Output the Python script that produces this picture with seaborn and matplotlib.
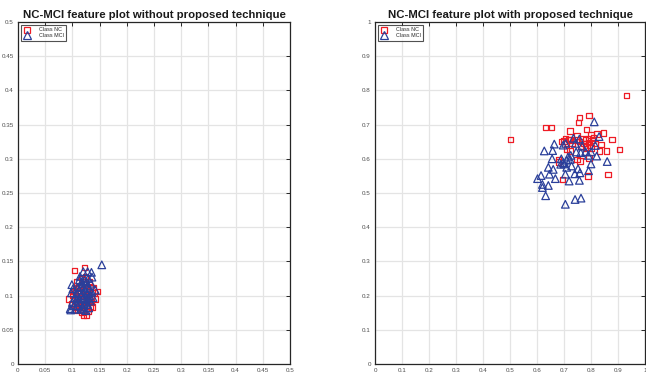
import matplotlib
matplotlib.use("Agg")
import matplotlib.pyplot as plt
from matplotlib.lines import Line2D
import seaborn as sns
import pandas as pd

# ---------------- data ----------------
left_nc_x = [0.1035, 0.122, 0.146, 0.0925, 0.12, 0.126, 0.118, 0.105, 0.11, 0.115, 0.125, 0.13, 0.135,
             0.128, 0.132, 0.112, 0.108, 0.118, 0.124, 0.138, 0.14, 0.1, 0.098, 0.103, 0.116, 0.121,
             0.127, 0.135, 0.113, 0.119, 0.123, 0.131, 0.109, 0.114, 0.129, 0.136, 0.106, 0.117, 0.126,
             0.133, 0.142, 0.102]
left_nc_y = [0.137, 0.141, 0.106, 0.095, 0.072, 0.071, 0.075, 0.083, 0.09, 0.10, 0.11, 0.105, 0.098,
             0.092, 0.085, 0.115, 0.12, 0.125, 0.128, 0.112, 0.104, 0.1, 0.088, 0.095, 0.085, 0.095,
             0.082, 0.09, 0.105, 0.108, 0.118, 0.12, 0.078, 0.08, 0.077, 0.083, 0.11, 0.092, 0.1,
             0.113, 0.095, 0.106]
left_mci_x = [0.154, 0.12, 0.128, 0.135, 0.114, 0.129, 0.099, 0.142, 0.096, 0.097, 0.105, 0.115, 0.11,
              0.1, 0.104, 0.108, 0.112, 0.116, 0.118, 0.122, 0.126, 0.12, 0.124, 0.128, 0.132, 0.13,
              0.126, 0.122, 0.118, 0.112, 0.116, 0.12, 0.124, 0.128, 0.133, 0.136, 0.131, 0.127, 0.11,
              0.106, 0.114, 0.119, 0.123, 0.121, 0.125, 0.102, 0.108, 0.117, 0.113, 0.134, 0.138, 0.13,
              0.101, 0.098, 0.136]
left_mci_y = [0.145, 0.135, 0.135, 0.134, 0.128, 0.125, 0.116, 0.108, 0.081, 0.079, 0.08, 0.08, 0.085,
              0.09, 0.097, 0.103, 0.108, 0.113, 0.118, 0.122, 0.12, 0.112, 0.107, 0.103, 0.1, 0.095,
              0.09, 0.087, 0.083, 0.095, 0.1, 0.097, 0.094, 0.087, 0.092, 0.105, 0.11, 0.114, 0.112,
              0.09, 0.09, 0.104, 0.1, 0.08, 0.078, 0.085, 0.095, 0.12, 0.123, 0.118, 0.097, 0.082,
              0.11, 0.104, 0.127]

right_nc_x = [0.931, 0.502, 0.631, 0.654, 0.758, 0.793, 0.753, 0.723, 0.783, 0.847, 0.822, 0.801, 0.877,
              0.837, 0.906, 0.857, 0.832, 0.723, 0.709, 0.749, 0.700, 0.717, 0.679, 0.749, 0.759, 0.793,
              0.694, 0.788, 0.862, 0.78, 0.79, 0.795, 0.785, 0.775, 0.805, 0.81, 0.77, 0.76, 0.79, 0.80,
              0.72, 0.73, 0.705, 0.745, 0.78, 0.815, 0.69, 0.763, 0.68]
right_nc_y = [0.785, 0.656, 0.691, 0.691, 0.721, 0.726, 0.706, 0.681, 0.686, 0.676, 0.672, 0.670, 0.656,
              0.642, 0.627, 0.623, 0.622, 0.623, 0.629, 0.667, 0.652, 0.657, 0.598, 0.598, 0.594, 0.602,
              0.539, 0.549, 0.554, 0.655, 0.648, 0.64, 0.635, 0.645, 0.655, 0.662, 0.66, 0.65, 0.66,
              0.632, 0.655, 0.645, 0.66, 0.655, 0.63, 0.645, 0.65, 0.638, 0.59]
right_mci_x = [0.812, 0.664, 0.627, 0.658, 0.656, 0.860, 0.821, 0.642, 0.660, 0.615, 0.602, 0.646, 0.620,
               0.620, 0.642, 0.632, 0.705, 0.741, 0.763, 0.668, 0.719, 0.757, 0.705, 0.740, 0.759, 0.791,
               0.752, 0.688, 0.697, 0.723, 0.728, 0.710, 0.735, 0.757, 0.767, 0.78, 0.8, 0.762, 0.816,
               0.697, 0.706, 0.742, 0.83, 0.69, 0.715, 0.725, 0.70, 0.71, 0.79, 0.745, 0.8]
right_mci_y = [0.708, 0.643, 0.623, 0.624, 0.600, 0.592, 0.608, 0.575, 0.569, 0.551, 0.542, 0.555, 0.525,
               0.516, 0.522, 0.492, 0.467, 0.481, 0.485, 0.542, 0.535, 0.537, 0.555, 0.556, 0.559, 0.565,
               0.571, 0.584, 0.589, 0.598, 0.579, 0.596, 0.660, 0.658, 0.637, 0.621, 0.620, 0.618, 0.639,
               0.640, 0.645, 0.645, 0.665, 0.6, 0.605, 0.61, 0.585, 0.575, 0.61, 0.62, 0.585]

left_ticks = [0, 0.05, 0.1, 0.15, 0.2, 0.25, 0.3, 0.35, 0.4, 0.45, 0.5]
left_tick_labels = ["0", "0.05", "0.1", "0.15", "0.2", "0.25", "0.3", "0.35", "0.4", "0.45", "0.5"]
right_ticks = [0, 0.1, 0.2, 0.3, 0.4, 0.5, 0.6, 0.7, 0.8, 0.9, 1]
right_tick_labels = ["0", "0.1", "0.2", "0.3", "0.4", "0.5", "0.6", "0.7", "0.8", "0.9", "1"]

titles = ["NC-MCI feature plot without proposed technique",
          "NC-MCI feature plot with proposed technique"]
class_names = ["Class NC", "Class MCI"]

# ---------------- style ----------------
sns.set_style("white")
plt.rcParams['font.family'] = ['Liberation Sans', 'DejaVu Sans']

RED = "#ee1c25"
BLUE = "#2a3f9a"

fig = plt.figure(figsize=(6.46, 3.76), dpi=100)
ax1 = fig.add_axes([18 / 646, 12 / 376, 272 / 646, 342 / 376])
ax2 = fig.add_axes([375 / 646, 12 / 376, 270 / 646, 342 / 376])


def draw(ax, ncx, ncy, mcx, mcy, ticks, labels, title):
    df_nc = pd.DataFrame({"x": ncx, "y": ncy})
    df_mc = pd.DataFrame({"x": mcx, "y": mcy})
    sns.scatterplot(data=df_nc, x="x", y="y", marker="s", s=16, color=RED, linewidth=0.9, ax=ax)
    c = ax.collections[-1]
    c.set_facecolor("none"); c.set_edgecolor(RED)
    sns.scatterplot(data=df_mc, x="x", y="y", marker="^", s=30, color=BLUE, linewidth=0.9, ax=ax)
    c = ax.collections[-1]
    c.set_facecolor("none"); c.set_edgecolor(BLUE)

    ax.set_xlim(ticks[0], ticks[-1])
    ax.set_ylim(ticks[0], ticks[-1])
    ax.set_xticks(ticks)
    ax.set_xticklabels(labels)
    ax.set_yticks(ticks)
    ax.set_yticklabels(labels)
    ax.set_xlabel("")
    ax.set_ylabel("")
    ax.grid(True, color="#e4e4e4", linewidth=0.9)
    ax.set_axisbelow(True)
    ax.tick_params(direction="in", length=3, width=0.7, colors="#262626",
                   labelsize=4.5, labelcolor="#4d4d4d", top=True, right=True, pad=3)
    for sp in ax.spines.values():
        sp.set_visible(True)
        sp.set_color("#262626")
        sp.set_linewidth(0.9)
    ax.set_title(title, fontsize=8.2, fontweight="bold", pad=3, color="#1a1a1a")

    handles = [Line2D([], [], marker="s", linestyle="none", markerfacecolor="none",
                      markeredgecolor=RED, markersize=4, markeredgewidth=0.9),
               Line2D([], [], marker="^", linestyle="none", markerfacecolor="none",
                      markeredgecolor=BLUE, markersize=5.5, markeredgewidth=0.9)]
    leg = ax.legend(handles, class_names, loc="upper left", fontsize=3.9, frameon=True,
                    fancybox=False, edgecolor="#262626", borderpad=0.45, handletextpad=1.6,
                    labelspacing=0.15, borderaxespad=0.55, handlelength=1.2)
    leg.get_frame().set_linewidth(0.8)


draw(ax1, left_nc_x, left_nc_y, left_mci_x, left_mci_y, left_ticks, left_tick_labels, titles[0])
draw(ax2, right_nc_x, right_nc_y, right_mci_x, right_mci_y, right_ticks, right_tick_labels, titles[1])

fig.savefig("out.png", dpi=100)
